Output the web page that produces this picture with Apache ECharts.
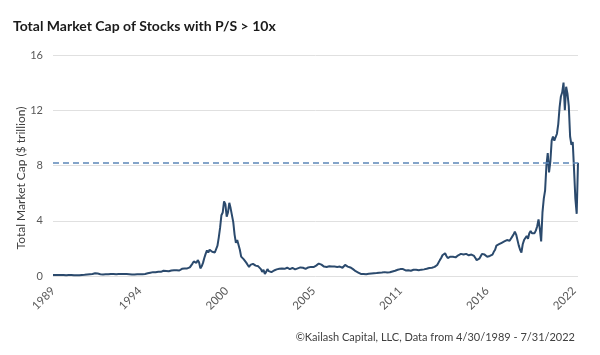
<!DOCTYPE html>
<html>
<head>
<meta charset="utf-8">
<script src="https://cdn.jsdelivr.net/npm/echarts@6/dist/echarts.min.js"></script>
<style>html,body{margin:0;padding:0;background:#fff;}#c{width:600px;height:355px;}</style>
</head>
<body>
<div id="c"></div>
<script>
// Monthly values, $ trillion, from Apr 1989 to Jul 2022
var startYear = 1989, startMonth = 4; // April 1989
var v1989to1994 = [
  0.07,0.07,0.08,0.08,0.08,0.07,0.07,0.07,0.07,
  0.07,0.06,0.07,0.07,0.08,0.08,0.08,0.06,0.05,0.05,0.05,0.06,
  0.07,0.08,0.09,0.09,0.1,0.11,0.12,0.13,0.14,0.15,0.16,0.2,
  0.2,0.18,0.15,0.13,0.12,0.11,0.12,0.12,0.12,0.13,0.14,0.15,
  0.15,0.14,0.14,0.13,0.14,0.14,0.13,0.14,0.15,0.15,0.14,0.14,
  0.13,0.13,0.12,0.11,0.11,0.1,0.11,0.12,0.12,0.13,0.12,0.12
];
var v1995to1999 = [
  0.14,0.15,0.17,0.2,0.22,0.24,0.27,0.28,0.3,0.27,0.28,0.3,
  0.28,0.3,0.32,0.38,0.42,0.36,0.32,0.34,0.36,0.4,0.38,0.42,
  0.45,0.42,0.38,0.4,0.48,0.52,0.58,0.55,0.6,0.55,0.58,0.62,
  0.75,0.9,1.05,1.1,0.95,1.15,1.0,0.55,0.7,0.95,1.3,1.6,
  1.85,1.7,1.9,1.95,1.75,1.8,1.7,1.75,2.2,2.8,3.5,4.4
];
var v2000to2004 = [
  4.6,5.4,5.2,4.3,4.6,5.3,4.9,5.0,3.9,3.0,2.4,2.6,
  2.7,1.9,1.4,1.5,1.2,1.1,0.95,0.8,0.65,0.8,0.9,0.88,
  0.82,0.75,0.78,0.7,0.6,0.5,0.3,0.45,0.15,0.3,0.5,0.35,
  0.25,0.28,0.3,0.4,0.45,0.48,0.5,0.52,0.5,0.55,0.5,0.52,
  0.55,0.6,0.55,0.5,0.52,0.58,0.5,0.48,0.52,0.55,0.6,0.62
];
var v2005to2009 = [
  0.58,0.6,0.55,0.52,0.6,0.62,0.68,0.66,0.7,0.65,0.72,0.75,
  0.8,0.9,0.85,0.82,0.72,0.68,0.62,0.65,0.68,0.7,0.66,0.68,
  0.65,0.68,0.64,0.66,0.7,0.68,0.62,0.6,0.68,0.8,0.72,0.68,
  0.6,0.62,0.55,0.5,0.45,0.35,0.3,0.25,0.2,0.15,0.13,0.14,
  0.13,0.12,0.14,0.16,0.17,0.18,0.2,0.2,0.22,0.21,0.22,0.24
];
var v2010to2014 = [
  0.24,0.25,0.27,0.28,0.26,0.25,0.28,0.27,0.3,0.33,0.35,0.38,
  0.4,0.45,0.45,0.5,0.55,0.5,0.52,0.4,0.38,0.42,0.4,0.38,
  0.42,0.45,0.48,0.45,0.4,0.42,0.44,0.46,0.5,0.48,0.5,0.52,
  0.55,0.58,0.62,0.6,0.68,0.66,0.75,0.8,0.88,1.15,1.3,1.5,
  1.6,1.65,1.45,1.3,1.3,1.4,1.35,1.4,1.35,1.35,1.45,1.5
];
var v2015to2019 = [
  1.5,1.6,1.55,1.55,1.6,1.6,1.65,1.5,1.4,1.55,1.6,1.45,
  1.3,1.15,1.2,1.25,1.35,1.6,1.5,1.55,1.45,1.4,1.4,1.45,
  1.45,1.55,1.75,1.9,2.2,2.3,2.3,2.35,2.4,2.5,2.5,2.55,
  2.6,2.5,2.55,2.7,2.85,3.0,3.2,3.0,2.9,2.2,1.9,1.7,
  2.3,2.6,2.7,2.9,2.7,3.1,3.25,3.1,3.0,3.1,3.3,3.6
];
var v2020to2022 = [
  4.1,3.4,2.5,4.6,5.6,6.2,8.0,8.9,7.5,8.3,9.8,10.1,
  9.8,9.7,10.3,11.0,12.2,13.0,13.3,14.0,12.0,13.7,13.2,12.3,
  10.1,9.5,9.7,7.7,5.6,4.5,8.2
];
var currentLevel = 8.2; // dashed reference line
var yTicks = {min: 0, max: 16, interval: 4};
var titleText = 'Total Market Cap of Stocks with P/S > 10x';
var yAxisName = 'Total Market Cap ($ trillion)';
var sourceText = '\u00A9Kailash Capital, LLC, Data from 4/30/1989 - 7/31/2022';

var values = [].concat(v1989to1994, v1995to1999, v2000to2004, v2005to2009, v2010to2014, v2015to2019, v2020to2022);
var months = [];
for (var i = 0; i < values.length; i++) {
  var m = startMonth - 1 + i;
  var yr = startYear + Math.floor(m / 12);
  var mo = (m % 12) + 1;
  months.push(yr + '-' + (mo < 10 ? '0' + mo : mo));
}

var chart = echarts.init(document.getElementById('c'), null, {renderer: 'canvas'});
var FONT = 'Lato';
chart.setOption({
  animation: false,
  backgroundColor: '#ffffff',
  title: [{
    text: titleText,
    left: 8, top: 14,
    textStyle: {fontFamily: FONT, fontWeight: 'bold', fontSize: 14, color: '#1a1a1a'}
  }, {
    text: sourceText,
    right: 20, bottom: 7,
    textStyle: {fontFamily: FONT, fontWeight: 'normal', fontSize: 11, color: '#404040'}
  }],
  graphic: [{
    type: 'text',
    x: 21, y: 178,
    rotation: Math.PI / 2,
    style: {
      text: yAxisName,
      fontFamily: FONT, fontSize: 12, fill: '#404040',
      textAlign: 'center', textVerticalAlign: 'middle'
    }
  }],
  grid: {left: 53, right: 22, top: 55, bottom: 79},
  xAxis: {
    type: 'category',
    data: months,
    boundaryGap: false,
    axisLine: {show: false},
    axisTick: {show: false},
    axisLabel: {
      interval: 65,
      rotate: 45,
      margin: 13,
      fontFamily: FONT, fontSize: 11.5, color: '#595959',
      formatter: function (v) { return v.slice(0, 4); }
    },
    splitLine: {show: false}
  },
  yAxis: {
    type: 'value',
    min: yTicks.min, max: yTicks.max, interval: yTicks.interval,
    axisLine: {show: false},
    axisTick: {show: false},
    axisLabel: {fontFamily: FONT, fontSize: 11, color: '#595959', margin: 10},
    splitLine: {lineStyle: {color: '#e0e0e0', width: 1}}
  },
  series: [{
    type: 'line',
    data: values,
    symbol: 'none',
    lineStyle: {color: '#2b4a6d', width: 2},
    markLine: {
      silent: true,
      symbol: 'none',
      label: {show: false},
      lineStyle: {color: '#5b86b8', type: [6, 4], width: 1.5},
      data: [{yAxis: currentLevel}]
    }
  }]
});
</script>
</body>
</html>
